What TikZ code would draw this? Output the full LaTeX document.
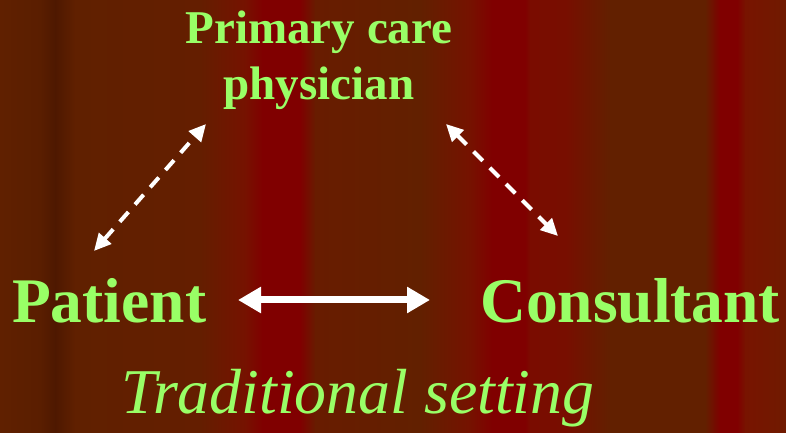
\documentclass[tikz,border=0pt]{standalone}
\usepackage{fontspec}
\setmainfont{Liberation Serif}
\usetikzlibrary{arrows.meta}
\definecolor{txtgreen}{RGB}{153,255,102}
\definecolor{bA}{RGB}{96,32,0}
\definecolor{bB}{RGB}{90,30,0}
\definecolor{bC}{RGB}{78,24,0}
\definecolor{bD}{RGB}{100,30,0}
\definecolor{bE}{RGB}{118,18,0}
\definecolor{bR}{RGB}{128,0,0}
\definecolor{bF}{RGB}{104,28,0}
\definecolor{bG}{RGB}{98,32,0}
\definecolor{bH}{RGB}{122,12,0}
\definecolor{bI}{RGB}{120,14,0}
\definecolor{bJ}{RGB}{120,20,0}
\definecolor{bK}{RGB}{112,26,0}
\tikzset{
  bigword/.style={text=txtgreen, inner sep=0pt, anchor=base west, font=\fontsize{63.5}{70}\selectfont\bfseries},
  topword/.style={text=txtgreen, inner sep=0pt, align=center, font=\fontsize{47}{56}\selectfont\bfseries},
  capword/.style={text=txtgreen, inner sep=0pt, anchor=base west, font=\fontsize{63.8}{70}\selectfont\itshape},
  dasharrow/.style={white, line width=4pt, dash pattern=on 13pt off 10pt, {Triangle[length=17pt,width=16pt]}-{Triangle[length=17pt,width=16pt]}},
  solidarrow/.style={white, line width=7pt, {Triangle[length=23pt,width=25pt]}-{Triangle[length=23pt,width=25pt]}}
}
\newcommand{\bgband}[4]{\shade[left color=#3, right color=#4] (#1pt,0) rectangle (#2pt,433pt);}
\begin{document}
\begin{tikzpicture}[x=1pt,y=1pt]
\useasboundingbox (0,0) rectangle (786,433);
\bgband{0}{40.5}{bA}{bB}
\bgband{40}{55.5}{bB}{bC}
\bgband{55}{75.5}{bC}{bA}
\bgband{75}{200.5}{bA}{bD}
\bgband{200}{245.5}{bD}{bE}
\bgband{245}{262.5}{bE}{bR}
\bgband{262}{300.5}{bR}{bR}
\bgband{300}{315.5}{bR}{bF}
\bgband{315}{420.5}{bF}{bG}
\bgband{420}{470.5}{bG}{bE}
\bgband{470}{492.5}{bE}{bR}
\bgband{492}{525.5}{bR}{bR}
\bgband{525}{530.5}{bR}{bH}
\bgband{530}{565.5}{bH}{bI}
\bgband{565}{610.5}{bI}{bG}
\bgband{610}{705.5}{bG}{bG}
\bgband{705}{720.5}{bG}{bR}
\bgband{720}{737.5}{bR}{bR}
\bgband{737}{745.5}{bR}{bJ}
\bgband{745}{786}{bJ}{bK}

\node[topword, anchor=base] (pcp) at (319,333) {Primary care\\physician};
\node[bigword] (patient) at (12,110.5) {Patient};
\node[bigword] (consultant) at (480,110.5) {Consultant};
\node[capword] (setting) at (121,19) {Traditional setting};

\coordinate (pcpL) at (206,309);
\coordinate (patT) at (94,182);
\coordinate (pcpR) at (446,309);
\coordinate (conT) at (558,197);
\coordinate (patR) at (238,133);
\coordinate (conL) at (430,133);

\draw[dasharrow] (patT) -- (pcpL);
\draw[dasharrow] (pcpR) -- (conT);
\draw[solidarrow] (patR) -- (conL);
\end{tikzpicture}
\end{document}
